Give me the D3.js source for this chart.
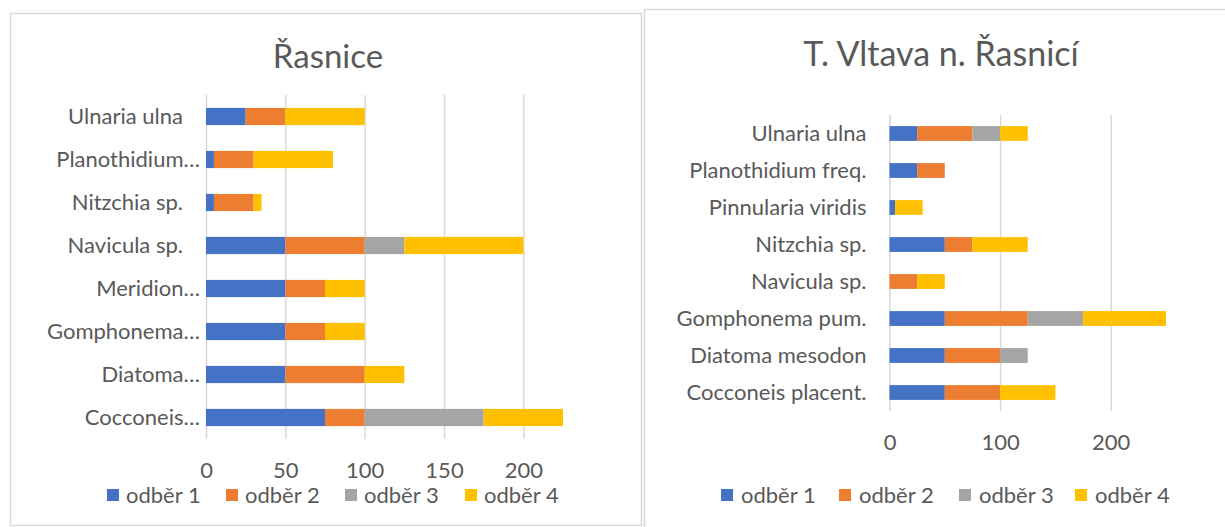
<!DOCTYPE html>
<html>
<head>
<meta charset="utf-8">
<script src="https://cdn.jsdelivr.net/npm/d3@7"></script>
<style>
  body { margin: 0; background: #fff; }
  text { font-family: Lato, 'Open Sans', sans-serif; fill: #595959; }
</style>
</head>
<body>
<div id="chart"></div>
<script>
// series (odběr = sample) and their colours
const seriesNames = ['odběr 1', 'odběr 2', 'odběr 3', 'odběr 4'];
const seriesColors = ['#4472C4', '#ED7D31', '#A5A5A5', '#FFC000'];

// left panel: Řasnice (categories listed top to bottom)
const rasniceTaxa = ['Ulnaria ulna', 'Planothidium…', 'Nitzchia sp.', 'Navicula sp.',
  'Meridion…', 'Gomphonema…', 'Diatoma…', 'Cocconeis…'];
const rasniceOdber1 = [25, 5, 5, 50, 50, 50, 50, 75];
const rasniceOdber2 = [25, 25, 25, 50, 25, 25, 50, 25];
const rasniceOdber3 = [0, 0, 0, 25, 0, 0, 0, 75];
const rasniceOdber4 = [50, 50, 5, 75, 25, 25, 25, 50];
const rasniceTicks = [0, 50, 100, 150, 200];

// right panel: T. Vltava n. Řasnicí
const vltavaTaxa = ['Ulnaria ulna', 'Planothidium freq.', 'Pinnularia viridis', 'Nitzchia sp.',
  'Navicula sp.', 'Gomphonema pum.', 'Diatoma mesodon', 'Cocconeis placent.'];
const vltavaOdber1 = [25, 25, 5, 50, 0, 50, 50, 50];
const vltavaOdber2 = [50, 25, 0, 25, 25, 75, 50, 50];
const vltavaOdber3 = [25, 0, 0, 0, 0, 50, 25, 0];
const vltavaOdber4 = [25, 0, 25, 50, 25, 75, 0, 50];
const vltavaTicks = [0, 100, 200];

const svg = d3.select('#chart').append('svg')
  .attr('width', 1225)
  .attr('height', 527);

const drawPanel = (cfg) => {
  const g = svg.append('g');

  // chart frame
  g.append('rect')
    .attr('x', cfg.frame[0] + 0.5)
    .attr('y', cfg.frame[1] + 0.5)
    .attr('width', cfg.frame[2])
    .attr('height', cfg.frame[3])
    .attr('fill', '#fff')
    .attr('stroke', '#D9D9D9')
    .attr('stroke-width', 1.5);

  g.append('text')
    .attr('x', cfg.titleX)
    .attr('y', cfg.titleY)
    .attr('text-anchor', 'middle')
    .style('font-size', cfg.titleSize)
    .text(cfg.title);

  const rows = cfg.taxa.map((t, i) => {
    const obj = { taxon: t };
    cfg.values.forEach((arr, j) => { obj[seriesNames[j]] = arr[i]; });
    return obj;
  });

  const xScale = d3.scaleLinear()
    .domain([0, cfg.xMax])
    .range([cfg.x0, cfg.x1]);

  const yScale = d3.scaleBand()
    .domain(cfg.taxa)
    .range([cfg.y0, cfg.y1])
    .paddingInner(0.6)
    .paddingOuter(0.3);

  // x axis doubles as the vertical gridlines
  const xAxis = g.append('g')
    .attr('class', 'axis axis--x')
    .attr('transform', `translate(0, ${cfg.y1})`)
    .call(d3.axisBottom(xScale)
      .tickValues(cfg.ticks)
      .tickSize(-(cfg.y1 - cfg.y0))
      .tickPadding(23));
  xAxis.select('.domain').remove();
  xAxis.selectAll('line').attr('stroke', '#D9D9D9').attr('stroke-width', 1.5);
  xAxis.selectAll('text').style('font-size', '22px').attr('fill', '#595959');

  const yAxis = g.append('g')
    .attr('class', 'axis axis--y')
    .attr('transform', `translate(${cfg.x0}, 0)`)
    .call(d3.axisLeft(yScale).tickSize(0).tickPadding(23));
  yAxis.select('.domain').remove();
  yAxis.selectAll('text')
    .style('font-size', '22px')
    .attr('fill', '#595959')
    .attr('dx', d => (d.endsWith('…') ? 17 : 0)); // Excel puts the ellipsis past the margin

  const stackData = d3.stack().keys(seriesNames)(rows);

  g.append('g')
    .attr('class', 'stackLayout')
    .selectAll('g')
    .data(stackData)
    .enter()
    .append('g')
    .style('fill', (d, i) => seriesColors[i])
    .selectAll('rect')
    .data(d => d)
    .enter()
    .append('rect')
    .attr('x', d => xScale(d[0]))
    .attr('y', d => yScale(d.data.taxon))
    .attr('width', d => xScale(d[1]) - xScale(d[0]))
    .attr('height', yScale.bandwidth());

  // legend
  const legend = g.append('g')
    .attr('class', 'legend')
    .selectAll('g')
    .data(seriesNames)
    .enter()
    .append('g')
    .attr('transform', (d, i) => `translate(${cfg.legendX[i]}, ${cfg.legendY})`);

  legend.append('rect')
    .attr('x', 0)
    .attr('y', -6)
    .attr('width', 12)
    .attr('height', 12)
    .attr('fill', (d, i) => seriesColors[i]);

  legend.append('text')
    .attr('x', cfg.legendGap)
    .attr('y', 0)
    .attr('dy', '0.35em')
    .style('font-size', '22px')
    .text(d => d);
};

drawPanel({
  frame: [10, 13, 631, 512],
  title: 'Řasnice',
  titleSize: '33px',
  titleX: 328,
  titleY: 68,
  taxa: rasniceTaxa,
  values: [rasniceOdber1, rasniceOdber2, rasniceOdber3, rasniceOdber4],
  ticks: rasniceTicks,
  xMax: 225,
  x0: 206,
  x1: 563,
  y0: 95,
  y1: 439,
  legendX: [107, 226, 345, 465],
  legendY: 495,
  legendGap: 19,
});

drawPanel({
  frame: [644, 9, 600, 540],
  title: 'T. Vltava n. Řasnicí',
  titleSize: '34px',
  titleX: 941,
  titleY: 66,
  taxa: vltavaTaxa,
  values: [vltavaOdber1, vltavaOdber2, vltavaOdber3, vltavaOdber4],
  ticks: vltavaTicks,
  xMax: 250,
  x0: 889.5,
  x1: 1166,
  y0: 115,
  y1: 411,
  legendX: [721, 839, 959, 1075],
  legendY: 495,
  legendGap: 20,
});
</script>
</body>
</html>
